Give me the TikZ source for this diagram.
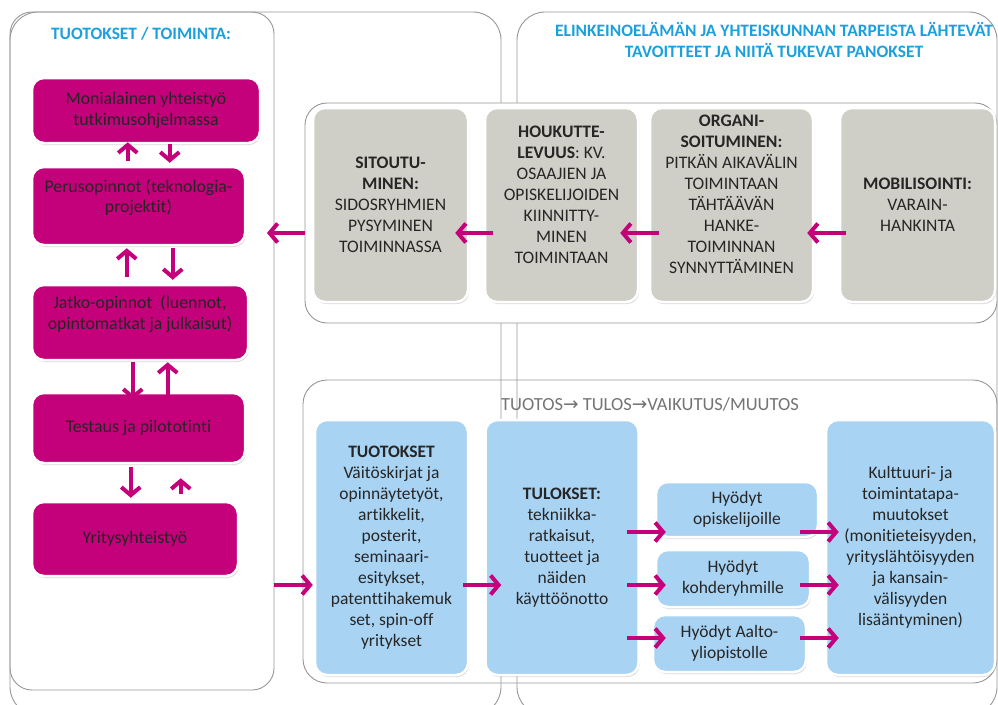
\documentclass[tikz,border=0pt]{standalone}
\usepackage{fontspec}
\setmainfont{Carlito}[Ligatures={NoCommon,NoContextual,NoRare}]
\newfontfamily\symfont{DejaVu Sans}
\usetikzlibrary{arrows.meta,shadows}
\definecolor{magenta}{RGB}{196,0,122}
\definecolor{harmaa}{RGB}{208,207,199}
\definecolor{vaalsin}{RGB}{168,211,243}
\definecolor{otsikko}{RGB}{28,160,221}
\definecolor{reuna}{RGB}{150,150,150}

\begin{document}
\begin{tikzpicture}[x=1pt,y=-1pt,
    paneeli/.style={draw=reuna, line width=.9pt, rounded corners=24pt},
    laatikko/.style={rectangle, rounded corners=12pt, draw=white, line width=2.5pt,
        align=center, text=black!85, inner sep=2pt,
        drop shadow={shadow xshift=1pt, shadow yshift=-2pt, opacity=.3}},
    magbox/.style={laatikko, fill=magenta, font=\fontsize{17.8}{20.5}\selectfont},
    harmbox/.style={laatikko, fill=harmaa, minimum height=194pt, font=\fontsize{17.6}{21}\selectfont},
    sinbox/.style={laatikko, fill=vaalsin, font=\fontsize{17.5}{21}\selectfont},
    otsik/.style={text=otsikko, font=\fontsize{17.4}{21}\selectfont\bfseries, align=center},
    nuoli/.style={draw=magenta, line width=4pt, -{Straight Barb[length=8pt,width=19pt]}}]
    \useasboundingbox (0,0) rectangle (998,704);
    % paneelit
    \draw[paneeli, rounded corners=28pt] (10,12) rectangle (501,715);
    \draw[paneeli, rounded corners=28pt] (517,12) rectangle (997,715);
    \node[paneeli, rounded corners=22pt, minimum width=264pt, minimum height=678pt] (vasen) at (142,351) {};
    \draw[paneeli, fill=white, rounded corners=22pt] (305,103) rectangle (997,323);
    \draw[paneeli] (303,380) rectangle (997,683);

    % otsikot
    \node[otsik, anchor=base] (ot1) at (141,39) {TUOTOKSET / TOIMINTA:};
    \node[otsik] (ot2) at (774,40) {ELINKEINOELÄMÄN JA YHTEISKUNNAN TARPEISTA LÄHTEVÄT\\TAVOITTEET JA NIITÄ TUKEVAT PANOKSET};
    \node[anchor=base, text=black!55, font=\fontsize{18.5}{21}\selectfont] (ot3) at (650,410) {TUOTOS{\symfont→} TULOS{\symfont→}VAIKUTUS/MUUTOS};

    % toiminta
    \node[magbox, minimum width=228pt, minimum height=65pt] (m1) at (146,110.5) {Monialainen yhteistyö\\tutkimusohjelmassa};
    \node[magbox, minimum width=213pt, minimum height=78pt] (m2) at (138.5,206) {Perusopinnot (teknologia-\\projektit)\\\mbox{}};
    \node[magbox, minimum width=216pt, minimum height=75pt] (m3) at (140,322.5) {Jatko-opinnot\ \ (luennot,\\opintomatkat ja julkaisut)\\\mbox{}};
    \node[magbox, minimum width=213pt, minimum height=70pt] (m4) at (138.5,428) {Testaus ja pilototinti};
    \node[magbox, minimum width=206pt, minimum height=74pt] (m5) at (135,539) {Yritysyhteistyö};

    \draw[nuoli] ([shift={(97,-5)}]m2.north west) -- ([shift={(97,-2)}]m1.south west);
    \draw[nuoli] ([shift={(139,0)}]m1.south west) -- ([shift={(139,-3)}]m2.north west);
    \draw[nuoli] ([shift={(96,-7)}]m3.north west) -- ([shift={(96,2)}]m2.south west);
    \draw[nuoli] ([shift={(142,2)}]m2.south west) -- ([shift={(142,-4)}]m3.north west);
    \draw[nuoli] ([shift={(102,1)}]m3.south west) -- ([shift={(102,8)}]m4.north west);
    \draw[nuoli] ([shift={(137,8)}]m4.north west) -- ([shift={(137,1)}]m3.south west);
    \draw[nuoli] ([shift={(100,3)}]m4.south west) -- ([shift={(100,-3)}]m5.north west);
    \draw[nuoli] ([shift={(150,-7)}]m5.north west) -- ([shift={(150,14)}]m4.south west);

    % panokset
    \node[harmbox, minimum width=155pt] (g1) at (390.5,205) {\textbf{SITOUTU-}\\\textbf{MINEN:}\\SIDOSRYHMIEN\\PYSYMINEN\\TOIMINNASSA};
    \node[harmbox, minimum width=153pt] (g2) at (561.5,205) {\textbf{HOUKUTTE-}\\\textbf{LEVUUS}: KV.\\OSAAJIEN JA\\OPISKELIJOIDEN\\KIINNITTY-\\MINEN\\TOIMINTAAN\\\mbox{}};
    \node[harmbox, minimum width=163pt] (g3) at (731.5,205) {\textbf{ORGANI-}\\\textbf{SOITUMINEN:}\\PITKÄN AIKAVÄLIN\\TOIMINTAAN\\TÄHTÄÄVÄN\\HANKE-\\TOIMINNAN\\SYNNYTTÄMINEN\\\mbox{}};
    \node[harmbox, minimum width=155pt] (g4) at (917.5,205) {\textbf{MOBILISOINTI:}\\VARAIN-\\HANKINTA};

    \draw[nuoli] ([shift={(7,28)}]g4.west) -- ([shift={(-7,28)}]g3.east);
    \draw[nuoli] ([shift={(10,28)}]g3.west) -- ([shift={(-19,28)}]g2.east);
    \draw[nuoli] ([shift={(9,28)}]g2.west) -- ([shift={(-14,28)}]g1.east);
    \draw[nuoli] ([shift={(-7,28)}]g1.west) -- ([shift={(-7.5,-118)}]vasen.east);

    % tuotos - tulos - vaikutus
    \node[sinbox, minimum width=153pt, minimum height=255pt] (b1) at (391.5,547.5) {\textbf{TUOTOKSET}\\Väitöskirjat ja\\opinnäytetyöt,\\artikkelit,\\posterit,\\seminaari-\\esitykset,\\patenttihakemuk\\set, spin-off\\yritykset};
    \node[sinbox, minimum width=153pt, minimum height=255pt] (b2) at (562,547.5) {\textbf{TULOKSET:}\\tekniikka-\\ratkaisut,\\tuotteet ja\\näiden\\käyttöönotto};
    \node[sinbox, minimum width=162pt, minimum height=55pt] (h1) at (737,509.5) {Hyödyt\\opiskelijoille};
    \node[sinbox, minimum width=154pt, minimum height=57pt] (h2) at (733,578.5) {Hyödyt\\kohderyhmille};
    \node[sinbox, minimum width=153pt, minimum height=57pt] (h3) at (729.5,643.5) {Hyödyt Aalto-\\yliopistolle};
    \node[sinbox, minimum width=169pt, minimum height=255pt] (b3) at (910.5,547.5) {Kulttuuri- ja\\toimintatapa-\\muutokset\\(monitieteisyyden,\\yrityslähtöisyyden\\ja kansain-\\välisyyden\\lisääntyminen)};

    \draw[nuoli] ([shift={(0,234)}]vasen.east) -- ([shift={(-1,37.5)}]b1.west);
    \draw[nuoli] ([shift={(-6,37.5)}]b1.east) -- ([shift={(17,37.5)}]b2.west);
    \draw[nuoli] ([shift={(-13,-15.5)}]b2.east) -- ([shift={(11,22.5)}]h1.west);
    \draw[nuoli] ([shift={(-13,37.5)}]b2.east) -- ([shift={(11,6.5)}]h2.west);
    \draw[nuoli] ([shift={(-13,90.5)}]b2.east) -- ([shift={(14,-5.5)}]h3.west);
    \draw[nuoli] ([shift={(-19,22.5)}]h1.east) -- ([shift={(14,-15.5)}]b3.west);
    \draw[nuoli] ([shift={(-11,6.5)}]h2.east) -- ([shift={(14,37.5)}]b3.west);
    \draw[nuoli] ([shift={(-7,-5.5)}]h3.east) -- ([shift={(14,90.5)}]b3.west);
\end{tikzpicture}
\end{document}
